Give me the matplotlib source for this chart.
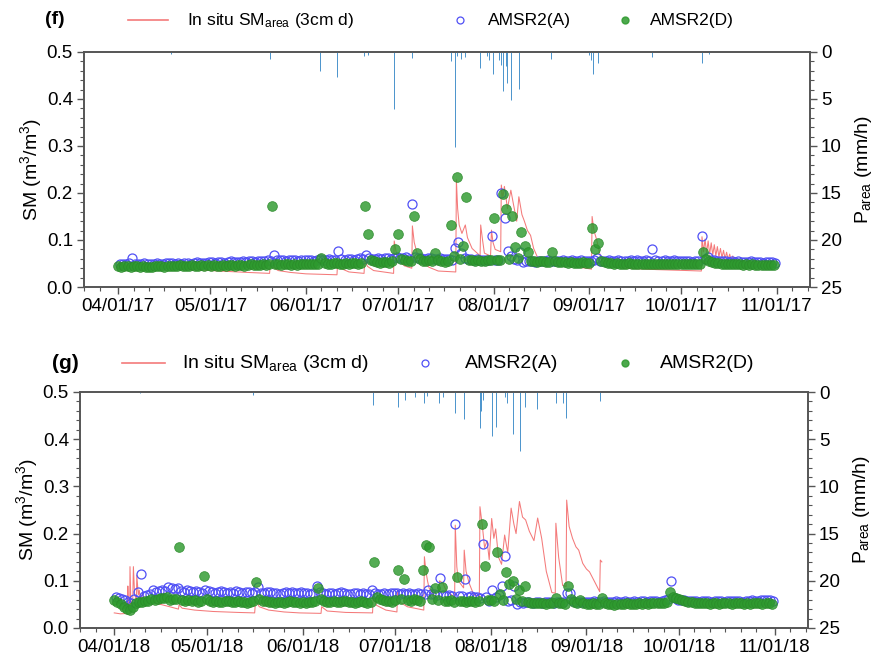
import datetime as dt
import numpy as np
import matplotlib
matplotlib.use("Agg")
import matplotlib.pyplot as plt
import matplotlib.dates as mdates
from matplotlib.lines import Line2D
from matplotlib.ticker import MultipleLocator, FormatStrFormatter

plt.rcParams['font.family'] = ['Liberation Sans', 'DejaVu Sans']
plt.rcParams['mathtext.fontset'] = 'custom'
plt.rcParams['mathtext.rm'] = 'Liberation Sans'
plt.rcParams['mathtext.it'] = 'Liberation Sans:italic'
plt.rcParams['mathtext.bf'] = 'Liberation Sans:bold'

# ---------------- DATA ----------------
# AMSR2 soil moisture, one list per month (Apr..Oct), values in 10^-3 m3/m3
amsr_a_2017 = [
    [50,49,50,51,62,50,49,50,51,50,49,50,51,50,50,51,52,51,50,51,50,52,51,50,52,53,52,51,52,53],
    [53,52,54,53,52,54,55,53,54,53,55,54,55,56,54,55,56,55,57,56,69,58,57,58,56,57,58,57,56,58,57],
    [57,58,56,58,59,57,58,59,57,58,76,60,58,59,60,58,59,61,60,68,62,60,59,61,60,62,61,60,62,63],
    [62,61,63,60,176,64,62,61,60,62,61,60,59,61,60,59,60,58,83,95,72,62,60,59,58,60,57,58,57,58,109],
    [58,57,201,147,77,65,60,57,74,54,55,56,55,54,56,55,56,57,55,56,55,56,57,55,56,57,55,56,57,56,55],
    [56,57,62,56,55,56,57,55,56,57,56,55,56,57,56,57,55,56,57,56,80,57,56,55,57,56,55,57,56,55],
    [55,56,55,54,56,55,109,60,63,58,57,56,55,56,55,54,55,54,55,54,53,54,55,53,54,53,52,53,54,53,52],
]
amsr_d_2017 = [
    [44,43,45,44,43,44,45,43,44,43,42,43,44,45,44,43,44,45,44,45,46,45,44,45,46,45,44,46,45,46],
    [45,46,44,45,46,45,47,46,45,47,46,45,47,48,46,47,46,48,47,48,172,50,48,47,48,49,47,48,47,48,49],
    [49,50,48,49,50,61,52,50,49,51,52,50,49,51,50,52,51,50,52,172,112,58,55,53,52,54,53,52,55,80],
    [113,60,57,56,55,151,72,60,56,55,57,56,73,57,55,54,55,131,65,233,60,88,192,58,57,56,57,55,56,57,57],
    [147,57,58,197,166,60,152,86,61,116,88,75,56,55,54,56,55,54,53,74,55,54,53,54,52,53,52,51,52,53,51],
    [51,125,80,93,55,53,52,51,50,51,50,49,50,51,49,50,48,49,50,49,48,50,49,48,50,49,48,49,50,49],
    [49,48,50,49,48,49,50,74,60,55,53,52,51,50,49,50,49,48,49,48,47,48,47,48,47,46,47,46,47,46,47],
]
amsr_a_2018 = [
    [66,63,62,60,55,52,62,76,114,68,70,72,80,77,78,80,79,86,84,82,84,79,77,80,78,76,79,77,75,80],
    [78,76,75,77,79,76,74,77,75,78,76,74,76,77,75,76,87,75,74,76,77,75,74,73,75,76,74,77,75,74,76],
    [75,74,73,75,89,76,74,73,75,74,73,75,76,74,73,72,74,75,73,74,72,73,80,74,73,72,74,73,75,74],
    [74,73,75,72,74,73,72,74,73,72,80,71,72,70,105,69,68,70,67,220,68,67,104,66,67,65,66,64,178,65,58],
    [80,66,70,90,153,58,60,88,51,55,54,56,55,54,55,56,54,55,56,55,54,55,56,55,75,74,57,56,55,56,55],
    [56,55,57,56,55,57,56,55,56,57,55,56,57,56,55,57,56,57,58,56,57,58,57,56,58,59,61,100,63,60],
    [60,59,58,57,58,57,56,57,58,57,56,57,58,57,56,57,58,57,58,57,56,57,58,59,58,57,59,60,59,60,58],
]
amsr_d_2018 = [
    [59,56,50,45,40,38,44,52,55,55,57,58,62,60,61,63,64,66,60,62,61,171,60,58,60,57,59,56,58,111],
    [62,58,56,57,55,56,58,57,55,56,57,55,56,54,55,57,97,62,58,57,55,56,54,55,56,54,55,57,56,55,54],
    [55,54,56,55,57,84,62,58,56,55,57,56,55,57,58,56,55,54,56,57,55,54,56,139,66,62,60,58,57,56],
    [60,123,62,103,60,58,61,59,57,123,176,172,62,84,60,86,58,57,59,56,107,58,57,56,58,57,56,58,220,132,60],
    [60,58,162,73,60,118,93,100,62,80,58,89,55,53,52,54,53,52,51,53,52,64,53,52,51,89,62,56,54,59,52],
    [51,50,52,51,50,64,52,50,51,49,50,51,50,52,51,50,51,52,51,52,51,52,53,52,53,54,56,77,66,63],
    [61,60,58,56,55,54,53,52,53,52,51,53,52,51,52,53,52,51,52,53,52,51,52,51,52,53,52,51,53,52,51],
]

# In situ SM_area (3 cm): (days since 1 April, m3/m3)
insitu_2017_day = [0, 6, 12, 18, 24, 30, 36, 42, 49.2, 49.5, 50.3, 52, 56, 61, 66, 71.1, 71.3, 72.2, 75,
                   79.9, 80.1, 81, 83, 89.5, 89.7, 90.3, 91.5, 93, 95.4, 95.6, 96.2, 97, 98.5, 101, 104,
                   109.7, 109.9, 110.3, 110.8, 111.7, 112.8, 113.5, 115, 117, 117.6, 117.8, 118.4, 119,
                   121, 121.3, 121.8, 122.5, 124.3, 124.5, 125, 125.5, 126.5, 127.6, 128.5, 129.5, 130.2,
                   131.2, 132, 133, 134, 135, 136.2, 140, 145, 150, 153.8, 154.0, 154.6, 155.5, 156.5, 158,
                   165, 175, 185, 189.5, 189.7, 190.2, 190.7, 191.2, 191.7, 192.2, 192.7, 193.2, 193.7,
                   194.2, 194.7, 195.2, 195.7, 196.2, 196.7, 197.2, 197.7, 198.2, 198.7, 199.2, 199.7,
                   200.2, 200.7, 201.2, 201.7, 202.5, 208, 213.9]
insitu_2017_val = [.046, .044, .041, .039, .037, .035, .033, .031, .029, .054, .042, .035, .031, .028, .027,
                   .026, .052, .040, .032, .029, .058, .044, .035, .029, .098, .075, .055, .045, .040, .130,
                   .095, .075, .055, .042, .034, .032, .228, .167, .132, .114, .132, .105, .082, .070, .066,
                   .132, .100, .072, .066, .121, .095, .080, .075, .217, .190, .214, .167, .206, .174, .140,
                   .192, .154, .140, .120, .110, .082, .064, .058, .050, .042, .038, .150, .120, .100, .070,
                   .045, .040, .037, .035, .034, .107, .075, .102, .072, .098, .070, .094, .068, .090, .066,
                   .086, .064, .082, .062, .078, .060, .074, .058, .070, .056, .066, .055, .062, .054, .058,
                   .052, .050, .048]
insitu_2018_day = [0, 2, 4.3, 4.4, 4.6, 5.0, 5.1, 5.4, 6.0, 6.2, 6.6, 7.2, 7.3, 7.8, 8.1, 8.5, 9.2, 9.8,
                   12, 15, 18, 20.8, 21, 22, 26, 32, 40, 45.5, 45.8, 47, 50, 55, 60, 67, 67.2, 69, 75,
                   83.7, 83.9, 85, 88, 91.6, 91.8, 92.5, 95, 100.3, 100.5, 101, 101.5, 102, 104, 105.2,
                   105.4, 106.5, 107.5, 110.3, 110.5, 111, 111.5, 113.2, 113.4, 114, 115, 116.5, 118.3,
                   118.5, 119.3, 120.0, 120.8, 121.5, 122.3, 123.0, 123.6, 124.5, 125.5, 126.5, 127.5,
                   128.6, 129.5, 130.2, 131.3, 132.3, 133.3, 134.5, 136, 137.2, 138.5, 140, 141.8, 142.9,
                   143.1, 144, 145.3, 146.4, 146.6, 147.4, 148.5, 149.6, 150.5, 151.8, 153, 154, 155.5,
                   157.3, 157.5, 158]
insitu_2018_val = [.032, .030, .031, .089, .040, .030, .130, .050, .060, .130, .070, .060, .112, .070,
                   .080, .060, .075, .058, .055, .050, .045, .040, .049, .042, .038, .035, .033, .032,
                   .059, .045, .038, .034, .032, .031, .045, .036, .033, .032, .066, .048, .038, .034,
                   .080, .055, .045, .038, .151, .120, .100, .085, .065, .060, .100, .095, .080, .065,
                   .218, .130, .100, .085, .165, .120, .095, .070, .068, .257, .215, .170, .185, .145,
                   .232, .190, .210, .150, .135, .197, .160, .254, .220, .200, .268, .235, .229, .205,
                   .185, .233, .190, .120, .075, .074, .222, .150, .090, .088, .271, .215, .190, .172,
                   .165, .137, .125, .119, .100, .077, .144, .140]

# Hourly precipitation P_area: (days since 1 April, mm/h)
precip_2017_day = [17.3, 49.3, 65.5, 71.2, 79.8, 81.2, 89.6, 95.4, 108.0, 109.6, 110.2, 111.5, 112.6,
                   117.7, 119.8, 120.4, 121.8, 123.6, 124.5, 125.2, 125.9, 126.5, 127.6, 130.4, 140.7,
                   153.0, 153.7, 154.2, 156.0, 173.5, 189.6, 192.0]
precip_2017_val = [0.2, 0.75, 2.0, 2.7, 0.4, 0.3, 6.1, 0.6, 1.0, 10.1, 0.4, 0.7, 0.5, 1.7, 0.4, 0.8,
                   2.3, 0.9, 1.4, 4.2, 1.5, 3.3, 5.1, 3.9, 0.7, 0.3, 0.8, 2.3, 1.2, 0.5, 1.2, 0.2]
precip_2018_day = [8.4, 45.0, 83.8, 91.9, 94.1, 97.6, 100.5, 101.5, 105.2, 106.5, 110.3, 113.3, 118.6,
                   118.9, 119.5, 122.4, 123.8, 126.5, 127.3, 129.1, 131.4, 133.0, 137.1, 143.0, 145.3,
                   146.4, 157.4]
precip_2018_val = [0.15, 0.3, 1.4, 1.55, 0.8, 0.5, 1.2, 0.4, 1.2, 0.5, 2.2, 2.9, 3.8, 2.0, 0.8, 4.7,
                   3.7, 0.5, 1.2, 4.4, 6.3, 1.6, 1.8, 1.2, 1.2, 2.8, 1.0]

MONTHS = [4, 5, 6, 7, 8, 9, 10]

# ---------------- STYLE ----------------
RED = '#f47a7a'
BLUE = '#5050f5'
GREEN = '#2e9a2e'
PCOL = '#4a93cc'
SPINE = '#555555'

W, H = 880, 659
fig = plt.figure(figsize=(W / 100, H / 100), dpi=100)


def fx(px):
    return px / W


def fy(py):
    return 1 - py / H


def monthly(year, lists, offset):
    xs, ys = [], []
    for m, vals in zip(MONTHS, lists):
        start = mdates.date2num(dt.datetime(year, m, 1))
        for i, v in enumerate(vals):
            if v is None:
                continue
            xs.append(start + i + offset)
            ys.append(v / 1000.0)
    return np.array(xs), np.array(ys)


def panel(rect, year, ins_d, ins_v, a_l, d_l, p_d, p_v):
    ax = fig.add_axes(rect)
    base = mdates.date2num(dt.datetime(year, 4, 1))
    ax.plot(base + np.array(ins_d), ins_v, color=RED, lw=0.75, zorder=2)
    xa, ya = monthly(year, a_l, 0.55)
    ax.plot(xa, ya, 'o', mfc='none', mec=BLUE, ms=6.5, mew=0.9, zorder=3)
    xd, yd = monthly(year, d_l, 0.05)
    ax.plot(xd, yd, 'o', mfc=GREEN, mec='#2a8a2a', ms=7, mew=0.6, alpha=0.82, zorder=4)
    ax.set_ylim(0, 0.5)
    ax.set_xlim(base - 11.1, base + 224.8)
    ax.yaxis.set_major_locator(MultipleLocator(0.1))
    ax.yaxis.set_minor_locator(MultipleLocator(0.02))
    ax.yaxis.set_major_formatter(FormatStrFormatter('%.1f'))
    ax.xaxis.set_major_locator(mdates.MonthLocator())
    ax.xaxis.set_minor_locator(mdates.DayLocator(bymonthday=[6, 11, 16, 21, 26]))
    ax.xaxis.set_major_formatter(mdates.DateFormatter('%m/%d/%y'))
    ax.set_ylabel('SM (m$^3$/m$^3$)', fontsize=14, labelpad=2)

    ax2 = ax.twinx()
    ax2.vlines(base + np.array(p_d), 0, p_v, color=PCOL, lw=0.7)
    ax2.set_ylim(25, 0)
    ax2.yaxis.set_major_locator(MultipleLocator(5))
    ax2.yaxis.set_minor_locator(MultipleLocator(1))
    ax2.set_ylabel('P$_{\\mathrm{area}}$ (mm/h)', fontsize=14, labelpad=8)
    ax2.set_xlim(ax.get_xlim())

    for a in (ax, ax2):
        for s in a.spines.values():
            s.set_color(SPINE)
            s.set_linewidth(1.2)
        a.tick_params(which='major', direction='out', length=5, width=1, color=SPINE,
                      labelsize=13.5, pad=3)
        a.tick_params(which='minor', direction='out', length=3, width=0.8, color=SPINE)
    return ax


def legend_row(py, tag, tag_x, tag_fs, x_line, x_t1, x_c, x_t2, x_g, x_t3, fs):
    y = fy(py)
    fig.text(fx(tag_x), y, tag, fontsize=tag_fs, fontweight='bold', va='center', ha='left')
    fig.add_artist(Line2D([fx(x_line[0]), fx(x_line[1])], [y, y], color=RED, lw=1.2,
                          transform=fig.transFigure))
    fig.text(fx(x_t1), y, 'In situ SM$_{\\mathrm{area}}$ (3cm d)', fontsize=fs, va='center', ha='left')
    fig.add_artist(Line2D([fx(x_c)], [y], marker='o', mfc='none', mec=BLUE, ms=5, mew=0.9,
                          transform=fig.transFigure))
    fig.text(fx(x_t2), y, 'AMSR2(A)', fontsize=fs, va='center', ha='left')
    fig.add_artist(Line2D([fx(x_g)], [y], marker='o', mfc=GREEN, mec=GREEN, ms=5, alpha=0.85,
                          transform=fig.transFigure))
    fig.text(fx(x_t3), y, 'AMSR2(D)', fontsize=fs, va='center', ha='left')


panel([fx(84), fy(287), fx(726), 235 / H], 2017, insitu_2017_day, insitu_2017_val,
      amsr_a_2017, amsr_d_2017, precip_2017_day, precip_2017_val)
panel([fx(80), fy(628), fx(728), 236 / H], 2018, insitu_2018_day, insitu_2018_val,
      amsr_a_2018, amsr_d_2018, precip_2018_day, precip_2018_val)

legend_row(20, '(f)', 45, 14, (128, 168), 187, 460, 488, 625, 650, 12.5)
legend_row(363, '(g)', 52, 15, (122, 165), 182, 425, 465, 625, 660, 14)

fig.savefig('out.png', dpi=100)
